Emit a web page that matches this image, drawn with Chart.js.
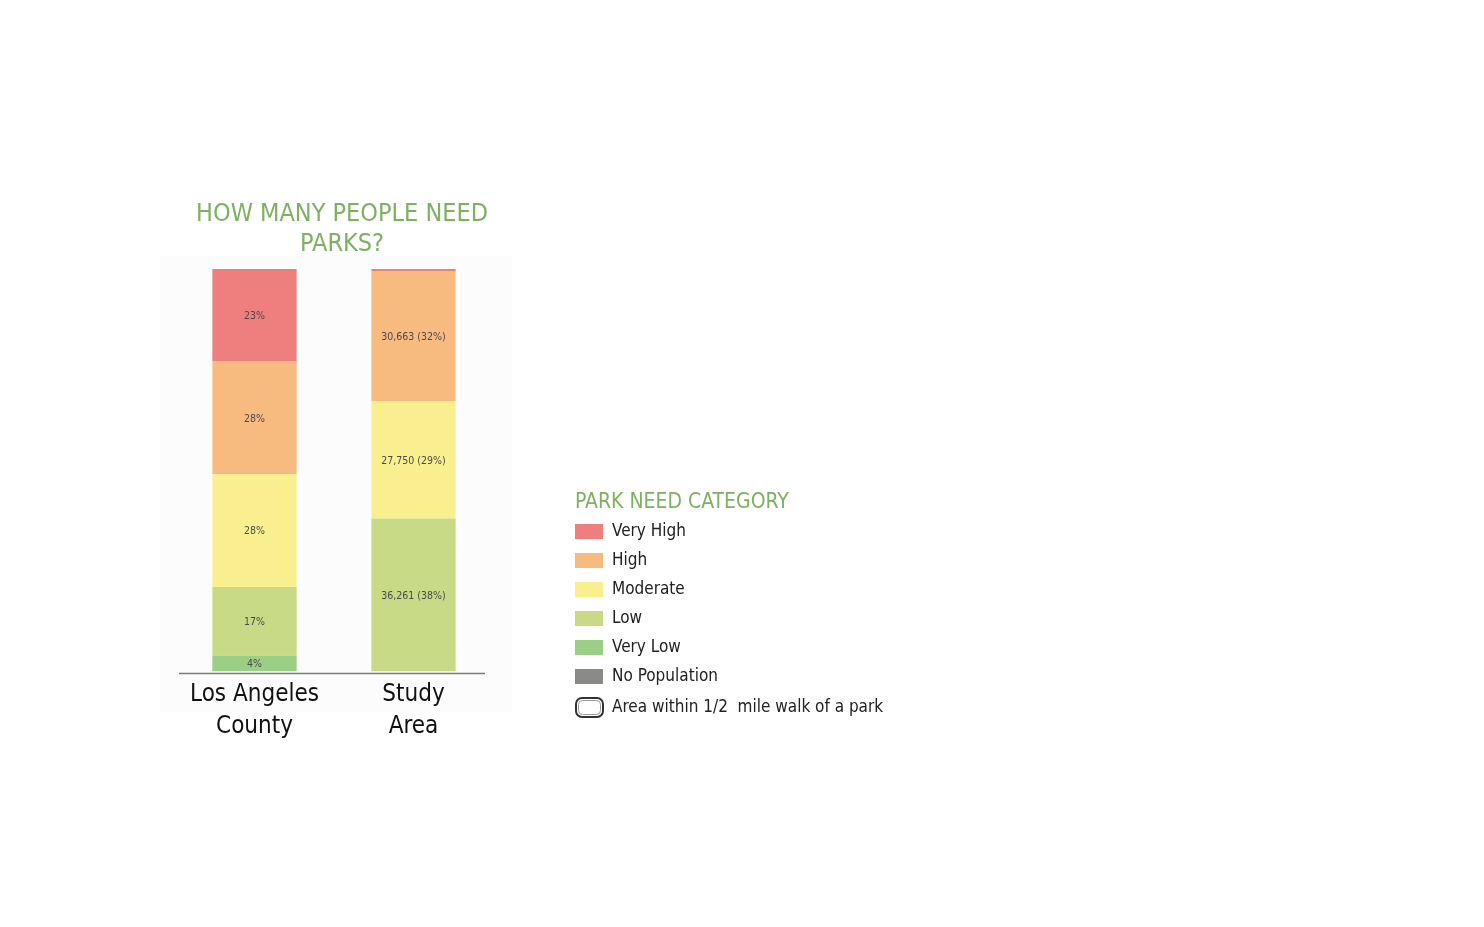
<!DOCTYPE html>
<html lang="en">
<head>
  <meta charset="UTF-8">
  <title>How many people need parks?</title>
  <script src="https://cdn.jsdelivr.net/npm/chart.js"></script>
  <style>
    html, body { margin: 0; padding: 0; background: #fff; }
    #wrap { position: relative; width: 1484px; height: 927px; }
    #panel { position: absolute; left: 160px; top: 256px; width: 352px; height: 456px; background: #fcfcfc; }
    canvas { position: absolute; left: 0; top: 0; }
  </style>
</head>
<body>
  <div id="wrap">
    <div id="panel"></div>
    <canvas id="chart" width="1484" height="927"></canvas>
  </div>

  <script>
    // data (percent of population per area)
    const areas = [['Los Angeles', 'County'], ['Study', 'Area']];
    const categories = ['Very High', 'High', 'Moderate', 'Low', 'Very Low', 'No Population'];
    const colors = ['#ef7f7e', '#f7bb80', '#faef8e', '#c9da86', '#9bcf85', '#8a8a86'];

    const veryHigh = [23, 0.6];
    const high = [28, 32.2];
    const moderate = [28, 29.2];
    const low = [17, 38.0];
    const veryLow = [4, 0];
    const noPopulation = [0, 0];

    // text written inside each segment
    const veryHighLabels = ['23%', ''];
    const highLabels = ['28%', '30,663 (32%)'];
    const moderateLabels = ['28%', '27,750 (29%)'];
    const lowLabels = ['17%', '36,261 (38%)'];
    const veryLowLabels = ['4%', ''];
    const noPopulationLabels = ['', ''];

    const chartTitle = ['HOW MANY PEOPLE NEED', 'PARKS?'];
    const legendTitle = 'PARK NEED CATEGORY';
    const walkLabel = 'Area within 1/2  mile walk of a park';

    const seriesValues = [veryHigh, high, moderate, low, veryLow, noPopulation];
    const seriesLabels = [veryHighLabels, highLabels, moderateLabels, lowLabels, veryLowLabels, noPopulationLabels];

    // stacked bottom-up, so reverse the order
    const datasets = categories.map((name, i) => ({
      label: name,
      data: seriesValues[i],
      segLabels: seriesLabels[i],
      backgroundColor: colors[i],
      borderWidth: 0,
      categoryPercentage: 1,
      barPercentage: 0.53
    })).reverse();

    const condensed = '"Liberation Sans Narrow", "DejaVu Sans Condensed", "Roboto", sans-serif';

    const decorPlugin = {
      id: 'decor',
      afterDatasetsDraw(chart) {
        const ctx = chart.ctx;
        const area = chart.chartArea;
        ctx.save();

        // segment labels
        ctx.font = '10.5px ' + condensed;
        ctx.fillStyle = '#4a4a4a';
        ctx.textAlign = 'center';
        ctx.textBaseline = 'middle';
        chart.data.datasets.forEach((ds, di) => {
          chart.getDatasetMeta(di).data.forEach((bar, j) => {
            const txt = ds.segLabels[j];
            if (!txt) return;
            const p = bar.getProps(['x', 'y', 'base'], true);
            ctx.fillText(txt, p.x, (p.y + p.base) / 2 + 1);
          });
        });

        // baseline
        ctx.strokeStyle = '#7a7a7a';
        ctx.lineWidth = 1.5;
        ctx.beginPath();
        ctx.moveTo(area.left + 4, area.bottom + 2);
        ctx.lineTo(area.right - 8, area.bottom + 2);
        ctx.stroke();

        // title
        ctx.fillStyle = '#7db360';
        ctx.font = '25px ' + condensed;
        ctx.textBaseline = 'alphabetic';
        const cx = (area.left + area.right) / 2 + 8;
        ctx.fillText(chartTitle[0], cx, 221);
        ctx.fillText(chartTitle[1], cx, 251);

        // legend
        const lx = 575;
        ctx.textAlign = 'left';
        ctx.font = '21px ' + condensed;
        ctx.fillText(legendTitle, lx, 508);
        ctx.font = '17px ' + condensed;
        categories.forEach((name, i) => {
          const y = 531 + i * 29;
          ctx.fillStyle = colors[i];
          ctx.fillRect(lx, y - 7, 28, 15);
          ctx.fillStyle = '#222';
          ctx.textBaseline = 'middle';
          ctx.fillText(name, lx + 37, y + 1);
        });
        const wy = 707;
        ctx.strokeStyle = '#333';
        ctx.lineWidth = 2;
        ctx.beginPath();
        ctx.roundRect(lx + 1, wy - 9, 27, 19, 6);
        ctx.stroke();
        ctx.strokeStyle = '#999';
        ctx.lineWidth = 1;
        ctx.beginPath();
        ctx.roundRect(lx + 3.5, wy - 6.5, 22, 14, 4);
        ctx.stroke();
        ctx.fillStyle = '#222';
        ctx.fillText(walkLabel, lx + 37, wy + 1);

        ctx.restore();
      }
    };

    new Chart(document.getElementById('chart'), {
      type: 'bar',
      data: { labels: areas, datasets: datasets },
      options: {
        responsive: false,
        animation: false,
        layout: { padding: { left: 175, right: 1484 - 493, top: 269, bottom: 177 } },
        scales: {
          x: {
            stacked: true,
            grid: { display: false, drawTicks: false },
            border: { display: false },
            ticks: {
              color: '#111',
              padding: 8,
              font: { family: condensed, size: 24, lineHeight: 1.3 }
            }
          },
          y: {
            stacked: true,
            display: false,
            min: 0,
            max: 100
          }
        },
        plugins: {
          legend: { display: false },
          tooltip: { enabled: false }
        }
      },
      plugins: [decorPlugin]
    });
  </script>
</body>
</html>
